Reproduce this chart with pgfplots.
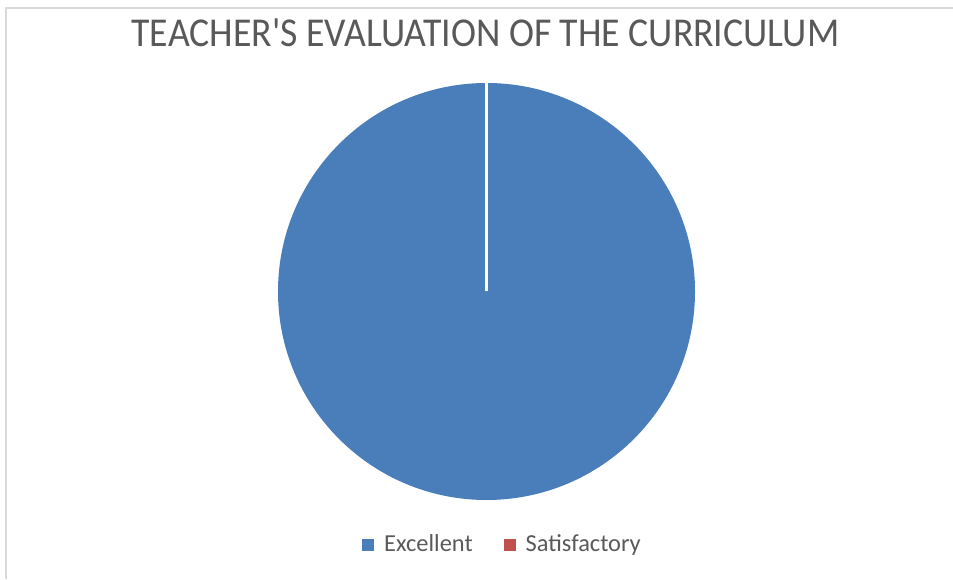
\documentclass[border=0pt]{standalone}
\usepackage{pgfplots}
\pgfplotsset{compat=1.18}
\usepackage{pgfplotstable}
\usepackage{fontspec}
\setmainfont{Carlito}[Ligatures=TeXOff]
\definecolor{excel}{HTML}{4A7EBB}
\definecolor{satis}{HTML}{C0504D}
\definecolor{titlegray}{HTML}{595959}
\definecolor{legendgray}{HTML}{595959}
\definecolor{framegray}{HTML}{D9D9D9}

\pgfplotstableread{
Category Value
Excellent 100
Satisfactory 0
}\piedata

\begin{document}
\begin{tikzpicture}
\path[use as bounding box] (0,0) rectangle (476.5pt,289.5pt);
\pgfplotstablegetelem{0}{Value}\of\piedata \pgfmathsetmacro{\va}{\pgfplotsretval}
\pgfplotstablegetelem{1}{Value}\of\piedata \pgfmathsetmacro{\vb}{\pgfplotsretval}
\pgfmathsetmacro{\tot}{\va+\vb}
\pgfmathsetmacro{\fa}{\va/\tot}
\pgfmathsetmacro{\fb}{\vb/\tot}
\pgfmathsetmacro{\aa}{90-360*\fa}
\pgfmathsetmacro{\ab}{\aa-360*\fb}
\begin{axis}[
  at={(0,0)}, anchor=south west,
  width=476.5pt, height=289.5pt, scale only axis,
  xmin=0, xmax=953, ymin=0, ymax=579,
  hide axis, clip=false,
  legend columns=2,
  legend style={draw=none, fill=none, at={(axis cs:503.5,34)}, anchor=center,
    font=\fontsize{12.2}{14}\selectfont, text=legendgray,
    /tikz/every odd column/.append style={column sep=3pt},
    /tikz/every even column/.append style={column sep=13.5pt},
    inner sep=0pt, cells={anchor=west}},
  legend image code/.code={\fill[#1, draw=none] (0pt,-3pt) rectangle (6pt,3pt);},
]
\addlegendimage{fill=excel, draw=none}
\addlegendentry{Excellent}
\addlegendimage{fill=satis, draw=none}
\addlegendentry{Satisfactory}
\fill[excel] (axis cs:486.5,287.5) -- ++(90:104.25pt) arc[start angle=90, end angle=\aa, radius=104.25pt] -- cycle;
\fill[satis] (axis cs:486.5,287.5) -- ++(\aa:104.25pt) arc[start angle=\aa, end angle=\ab, radius=104.25pt] -- cycle;
\draw[white, line width=1.5pt] (axis cs:486.5,287.5) -- ++(90:104.25pt);
\draw[white, line width=1.5pt] (axis cs:486.5,287.5) -- ++(\aa:104.25pt);
\draw[framegray, line width=1pt] (axis cs:6,0) -- (axis cs:6,571) -- (axis cs:953,571);
\node[anchor=base, text=titlegray, font=\fontsize{20.5}{24}\selectfont] at (axis cs:485.5,532) {\scalebox{0.92}[1]{TEACHER'S EVALUATION OF THE CURRICULUM}};
\end{axis}
\end{tikzpicture}
\end{document}
